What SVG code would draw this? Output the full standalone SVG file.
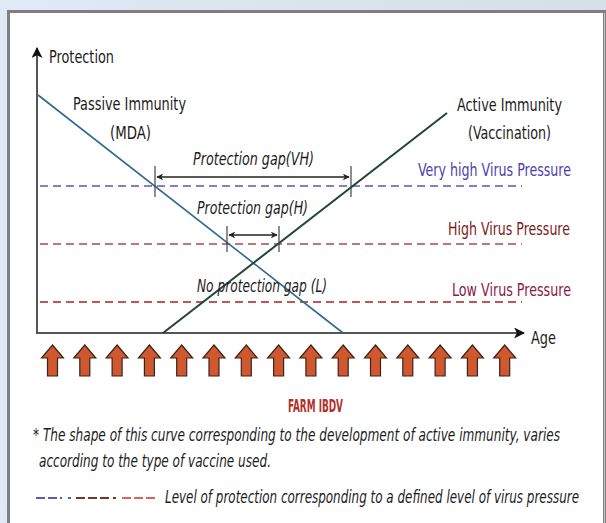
<svg xmlns="http://www.w3.org/2000/svg" width="606" height="523" viewBox="0 0 606 523">
<defs>
<linearGradient id="bg" x1="0" y1="0" x2="1" y2="0">
<stop offset="0" stop-color="#dfeaf6"/><stop offset="1" stop-color="#d4dfe9"/>
</linearGradient>
<marker id="ah" viewBox="0 0 10 10" refX="9" refY="5" markerWidth="7" markerHeight="7" orient="auto-start-reverse" markerUnits="userSpaceOnUse">
<path d="M0,0 L10,5 L0,10 L3,5 Z" fill="#222"/>
</marker>
<marker id="axh" viewBox="0 0 10 10" refX="9" refY="5" markerWidth="11" markerHeight="11" orient="auto" markerUnits="userSpaceOnUse">
<path d="M0,0 L10,5 L0,10 L2.5,5 Z" fill="#111"/>
</marker>
<path id="up" d="M0,-16 L11,-3 L5,-3 L5,15 L-5,15 L-5,-3 L-11,-3 Z"/>
</defs>
<style>
text{font-family:"Liberation Sans Narrow","DejaVu Sans Condensed","Liberation Sans",Arial,sans-serif}
.lbl{font-size:18px;fill:#1c1c1c}
.it{font-size:18px;font-style:italic;fill:#1c1c1c}
.ft{font-size:17px;font-style:italic;fill:#1c1c1c}
.ax{stroke:#555;stroke-width:2;fill:none}
.vh{stroke:#5a5ab8;stroke-width:1.6;stroke-dasharray:8,5;fill:none}
.hi{stroke:#b04848;stroke-width:1.6;stroke-dasharray:8,5;fill:none}
.lo{stroke:#a82222;stroke-width:1.6;stroke-dasharray:8,5;fill:none}
.tick{stroke:#444;stroke-width:1.2}
.gap{stroke:#222;stroke-width:1.5;marker-start:url(#ah);marker-end:url(#ah)}
.farm{fill:#d0582f;stroke:#3a2418;stroke-width:1.2}
</style>
<rect x="0" y="0" width="606" height="523" fill="url(#bg)"/>
<rect x="8.5" y="11.5" width="596" height="513" fill="#fff" stroke="#7f7f7f" stroke-width="3"/>
<line x1="604.5" y1="13" x2="604.5" y2="523" stroke="#c8c8c8" stroke-width="1"/>

<g id="axes">
<line class="ax" x1="37" y1="334" x2="37" y2="48" marker-end="url(#axh)"/>
<line class="ax" x1="36" y1="333" x2="524" y2="333" marker-end="url(#axh)"/>
<text class="lbl" x="49" y="63" textLength="65" lengthAdjust="spacingAndGlyphs">Protection</text>
<text class="lbl" x="531" y="344" textLength="25" lengthAdjust="spacingAndGlyphs">Age</text>
</g>

<g id="pressure-levels">
<line class="vh" x1="40" y1="186" x2="522" y2="186"/>
<line class="hi" x1="40" y1="244" x2="522" y2="244"/>
<line class="lo" x1="40" y1="302" x2="522" y2="302"/>
<text transform="translate(418,176) scale(0.7,1)" font-size="18" fill="#4b3fae" textLength="218.6" lengthAdjust="spacingAndGlyphs">Very high Virus Pressure</text>
<text transform="translate(448,235) scale(0.72,1)" font-size="18" fill="#7a1a1a" textLength="169.4" lengthAdjust="spacingAndGlyphs">High Virus Pressure</text>
<text transform="translate(452,296) scale(0.72,1)" font-size="18" fill="#8a1848" textLength="165.3" lengthAdjust="spacingAndGlyphs">Low Virus Pressure</text>
</g>

<g id="passive">
<line x1="38" y1="95" x2="343" y2="333" stroke="#2f6a8c" stroke-width="1.6"/>
<text class="lbl" x="73" y="110" textLength="113" lengthAdjust="spacingAndGlyphs">Passive Immunity</text>
<text class="lbl" x="110" y="139" textLength="41" lengthAdjust="spacingAndGlyphs">(MDA)</text>
</g>

<g id="active">
<line x1="163" y1="333" x2="447" y2="113" stroke="#1f4634" stroke-width="2"/>
<text class="lbl" x="457" y="111" textLength="105" lengthAdjust="spacingAndGlyphs">Active Immunity</text>
<text class="lbl" x="468" y="139" textLength="83" lengthAdjust="spacingAndGlyphs">(Vaccination)</text>
</g>

<g id="gaps">
<line class="tick" x1="155" y1="166" x2="155" y2="197"/>
<line class="tick" x1="351" y1="166" x2="351" y2="197"/>
<line class="gap" x1="157" y1="177" x2="349" y2="177"/>
<text class="it" x="193" y="165" textLength="121" lengthAdjust="spacingAndGlyphs">Protection gap(VH)</text>
<line class="tick" x1="227" y1="226" x2="227" y2="252"/>
<line class="tick" x1="279" y1="226" x2="279" y2="252"/>
<line class="gap" x1="229" y1="235" x2="277" y2="235"/>
<text class="it" x="197" y="214" textLength="111" lengthAdjust="spacingAndGlyphs">Protection gap(H)</text>
<text class="it" x="197" y="292" textLength="130" lengthAdjust="spacingAndGlyphs">No protection gap (L)</text>
</g>

<g id="farm-arrows">
<use href="#up" class="farm" x="52.5" y="361"/>
<use href="#up" class="farm" x="84.8" y="361"/>
<use href="#up" class="farm" x="117.1" y="361"/>
<use href="#up" class="farm" x="149.4" y="361"/>
<use href="#up" class="farm" x="181.7" y="361"/>
<use href="#up" class="farm" x="214" y="361"/>
<use href="#up" class="farm" x="246.3" y="361"/>
<use href="#up" class="farm" x="278.6" y="361"/>
<use href="#up" class="farm" x="310.9" y="361"/>
<use href="#up" class="farm" x="343.2" y="361"/>
<use href="#up" class="farm" x="375.5" y="361"/>
<use href="#up" class="farm" x="407.8" y="361"/>
<use href="#up" class="farm" x="440.1" y="361"/>
<use href="#up" class="farm" x="472.4" y="361"/>
<use href="#up" class="farm" x="504.7" y="361"/>
<text x="288" y="412" font-size="17" font-weight="bold" fill="#b2302c" textLength="55" lengthAdjust="spacingAndGlyphs">FARM IBDV</text>
</g>

<g id="notes">
<text class="ft" transform="translate(33,441) scale(0.75,1)" textLength="702.7" lengthAdjust="spacingAndGlyphs">* The shape of this curve corresponding to the development of active immunity, varies</text>
<text class="ft" x="39" y="467" textLength="232" lengthAdjust="spacingAndGlyphs">according to the type of vaccine used.</text>
<g stroke-width="2">
<line x1="36" y1="498" x2="62" y2="498" stroke="#5a5ab0" stroke-dasharray="9,3"/>
<line x1="68" y1="498" x2="71" y2="498" stroke="#5a5ab0"/>
<line x1="76" y1="498" x2="110" y2="498" stroke="#7a3328" stroke-dasharray="9,3"/>
<line x1="113" y1="498" x2="116" y2="498" stroke="#7a3328"/>
<line x1="122" y1="498" x2="157" y2="498" stroke="#e06060" stroke-dasharray="9,3"/>
</g>
<text class="ft" transform="translate(165,503) scale(0.72,1)" textLength="575" lengthAdjust="spacingAndGlyphs">Level of protection corresponding to a defined level of virus pressure</text>
</g>
</svg>
